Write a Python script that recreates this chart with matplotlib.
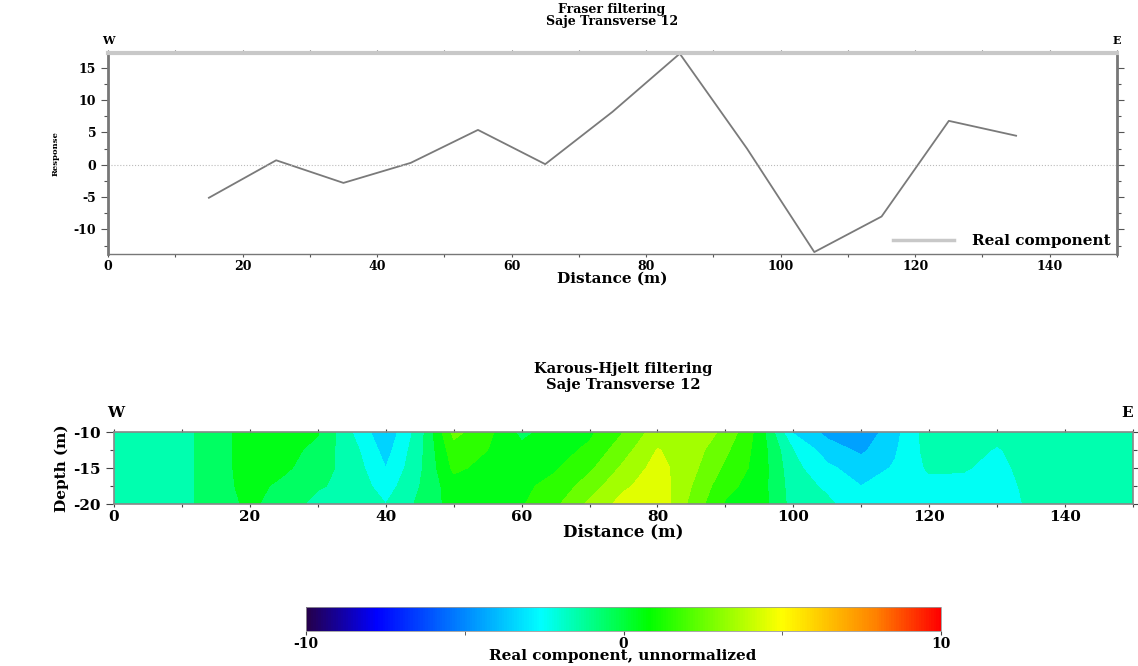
import numpy as np
import matplotlib
matplotlib.use('Agg')
import matplotlib.pyplot as plt
from matplotlib.colors import LinearSegmentedColormap, Normalize
from matplotlib.ticker import MultipleLocator
import matplotlib.cm as cm

plt.rcParams['font.family'] = ['DejaVu Serif']
plt.rcParams['font.weight'] = 'bold'
plt.rcParams['axes.labelweight'] = 'bold'
plt.rcParams['axes.unicode_minus'] = False

# Fraser filtered response
distance = [15, 25, 35, 45, 55, 65, 75, 85, 95, 105, 115, 125, 135]
response = [-5.1, 0.7, -2.8, 0.3, 5.4, 0.1, 8.2, 17.2, 2.5, -13.5, -8.0, 6.8, 4.5]

# Karous-Hjelt grid (columns every 5 m, rows by depth)
kh_x = list(range(0, 155, 5))
kh_depth = [-10, -12.5, -15, -17.5, -20]
kh_cols = [
    [-1.5, -1.5, -1.5, -1.5, -1.5],   # 0
    [-1.5, -1.5, -1.5, -1.5, -1.5],   # 5
    [-1.3, -1.3, -1.3, -1.3, -1.3],   # 10
    [-0.5, -0.5, -0.5, -0.5, -0.5],   # 15
    [0.5, 0.5, 0.5, 0.4, 0.2],        # 20
    [0.6, 0.5, 0.2, -0.3, -0.5],      # 25
    [0.1, -0.4, -0.6, -0.9, -1.3],    # 30
    [-2.0, -1.6, -1.4, -1.3, -1.4],   # 35
    [-3.8, -3.4, -3.0, -2.5, -2.0],   # 40
    [-1.5, -1.3, -1.2, -1.0, -0.8],   # 45
    [2.3, 1.6, 1.2, 0.6, 0.4],        # 50
    [1.3, 1.0, 0.7, 0.5, 0.5],        # 55
    [-0.3, 0.3, 0.6, 0.8, 0.9],       # 60
    [0.5, 0.6, 0.9, 1.3, 1.8],        # 65
    [0.8, 1.2, 1.8, 2.5, 3.2],        # 70
    [2.0, 2.6, 3.2, 3.8, 4.4],        # 75
    [3.5, 4.05, 4.4, 4.6, 4.8],       # 80
    [3.6, 3.5, 3.3, 3.0, 2.7],        # 85
    [2.8, 2.2, 1.8, 1.3, 0.9],        # 90
    [0.6, 0.6, 0.6, 0.5, 0.5],        # 95
    [-3.1, -2.0, -1.7, -1.5, -1.4],   # 100
    [-4.3, -3.5, -2.8, -2.2, -1.8],   # 105
    [-4.8, -4.2, -3.5, -3.0, -2.7],   # 110
    [-3.3, -3.1, -2.9, -2.8, -2.7],   # 115
    [-1.5, -1.6, -1.85, -2.3, -2.6],  # 120
    [-1.5, -1.6, -1.9, -2.3, -2.5],   # 125
    [-1.6, -2.1, -2.3, -2.5, -2.6],   # 130
    [-1.5, -1.5, -1.6, -1.7, -1.8],   # 135
    [-1.5, -1.5, -1.5, -1.5, -1.5],   # 140
    [-1.5, -1.5, -1.5, -1.5, -1.5],   # 145
    [-1.5, -1.5, -1.5, -1.5, -1.5],   # 150
]

cstops = [0.0, 0.11, 0.37, 0.54, 0.75, 0.9, 1.0]
ccolors = ['#25004a', '#0000ff', '#00ffff', '#00ff00', '#ffff00', '#ff8000', '#ff0000']
rainbow = LinearSegmentedColormap.from_list('surfer', list(zip(cstops, ccolors)))
norm = Normalize(-10, 10)

W, H = 1138, 666
fig = plt.figure(figsize=(W / 100, H / 100), dpi=100)


def box(l, t, r, b):
    return [l / W, 1 - b / H, (r - l) / W, (b - t) / H]


# ---- top: Fraser filtering
ax1 = fig.add_axes(box(108, 53, 1117, 254))
ax1.plot(distance, response, color='#7a7a7a', lw=1.3, label='Real component')
ax1.axhline(0, color='#bbbbbb', lw=0.8, ls=':')
ax1.set_xlim(0, 150)
ax1.set_ylim(-13.8, 17.3)
ax1.xaxis.set_major_locator(MultipleLocator(20))
ax1.xaxis.set_minor_locator(MultipleLocator(10))
ax1.yaxis.set_major_locator(MultipleLocator(5))
ax1.yaxis.set_minor_locator(MultipleLocator(2.5))
ax1.tick_params(which='both', top=True, right=True, direction='out', color='#555555',
                labelsize=9, width=0.8)
ax1.tick_params(which='major', length=5)
ax1.tick_params(which='minor', length=3)
ax1.tick_params(axis='x', which='both', length=2, pad=2)
ax1.tick_params(right=True, labelright=False)
for s in ['left', 'right']:
    ax1.spines[s].set_linewidth(2)
    ax1.spines[s].set_color('#777777')
ax1.spines['top'].set_linewidth(3)
ax1.spines['top'].set_color('#c8c8c8')
ax1.spines['bottom'].set_linewidth(1)
ax1.spines['bottom'].set_color('#777777')
ax1.set_xlabel('Distance (m)', fontsize=11, labelpad=-1)
ax1.set_ylabel('Response', fontsize=6, labelpad=10)
leg = ax1.legend(loc='lower right', frameon=False, fontsize=11, handlelength=4,
                 borderaxespad=0.0, handletextpad=1.2)
for ln in leg.get_lines():
    ln.set_color('#c8c8c8')
    ln.set_linewidth(2.5)
fig.text(612 / W, 1 - 9 / H, 'Fraser filtering', ha='center', va='center', fontsize=9)
fig.text(612 / W, 1 - 22 / H, 'Saje Transverse 12', ha='center', va='center', fontsize=9)
fig.text(108 / W, 1 - 41 / H, 'W', ha='center', va='center', fontsize=8)
fig.text(1117 / W, 1 - 41 / H, 'E', ha='center', va='center', fontsize=8)

# ---- bottom: Karous-Hjelt filtering
ax2 = fig.add_axes(box(114, 432, 1133, 504))
Z = np.array(kh_cols).T
levels = np.arange(-10, 11, 1)
ax2.contourf(kh_x, kh_depth, Z, levels=levels, cmap=rainbow, norm=norm)
ax2.set_xlim(0, 150)
ax2.set_ylim(-20, -10)
ax2.xaxis.set_major_locator(MultipleLocator(20))
ax2.xaxis.set_minor_locator(MultipleLocator(10))
ax2.yaxis.set_major_locator(MultipleLocator(5))
ax2.yaxis.set_minor_locator(MultipleLocator(2.5))
ax2.tick_params(which='both', top=True, right=True, direction='out', labelsize=11,
                color='#444444', width=0.8)
ax2.tick_params(which='major', length=6)
ax2.tick_params(which='minor', length=3)
ax2.tick_params(axis='x', which='both', length=2, pad=2)
for s in ax2.spines.values():
    s.set_color('#888888')
    s.set_linewidth(1.2)
ax2.set_xlabel('Distance (m)', fontsize=12, labelpad=0)
ax2.set_ylabel('Depth (m)', fontsize=11, labelpad=3)
fig.text(623 / W, 1 - 369 / H, 'Karous-Hjelt filtering', ha='center', va='center', fontsize=10.5)
fig.text(623 / W, 1 - 385 / H, 'Saje Transverse 12', ha='center', va='center', fontsize=10.5)
fig.text(116 / W, 1 - 413 / H, 'W', ha='center', va='center', fontsize=11)
fig.text(1127 / W, 1 - 413 / H, 'E', ha='center', va='center', fontsize=11)

# ---- colorbar
cax = fig.add_axes(box(306, 607, 941, 631))
sm = cm.ScalarMappable(norm=norm, cmap=rainbow)
cb = fig.colorbar(sm, cax=cax, orientation='horizontal', ticks=[-10, 0, 10])
cb.outline.set_edgecolor('#999999')
cb.outline.set_linewidth(0.6)
cax.xaxis.set_minor_locator(MultipleLocator(5))
cax.tick_params(which='both', labelsize=10, length=3, pad=1, color='#444444')
fig.text(623 / W, 1 - 656 / H, 'Real component, unnormalized', ha='center', va='center',
         fontsize=11)

fig.savefig('out.png', dpi=100)
